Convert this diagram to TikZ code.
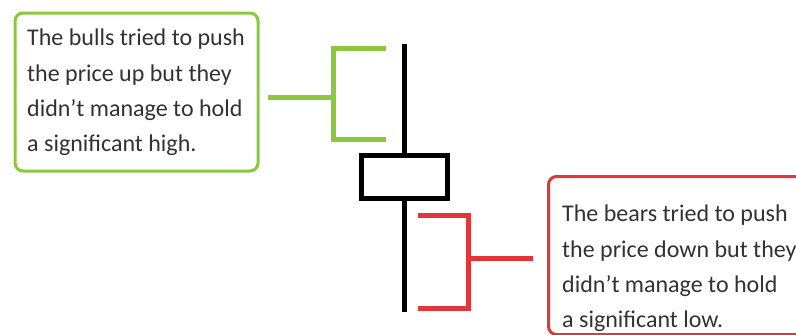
\documentclass[tikz,border=0pt]{standalone}
\usepackage{fontspec}
\setmainfont{Carlito}
\definecolor{bullgreen}{RGB}{140,200,60}
\definecolor{bearred}{RGB}{225,55,58}
\definecolor{txt}{RGB}{50,50,50}
\begin{document}
\begin{tikzpicture}[x=1pt,y=-1pt,
  callout/.style={rounded corners=8pt, line width=3pt, minimum width=#1},
  label/.style={text=txt, align=left, inner sep=0pt, font=\fontsize{24}{35.2}\selectfont},
  bracket/.style={line width=5pt},
  candle/.style={line width=5pt, draw=black}]
\useasboundingbox (0,0) rectangle (796,335);
\clip (0,0) rectangle (796,335);
% green callout
\node[callout=243pt, draw=bullgreen, minimum height=158pt] (gbox) at (136.5,92) {};
\node[label, anchor=north west] (gtext) at (27,29) {The bulls tried to push\\the price up but they\\didn’t manage to hold\\a significant high.};
% red callout
\node[callout=270pt, draw=bearred, minimum height=158pt, anchor=north west] (rbox) at (547,175) {};
\node[label, anchor=north west] (rtext) at (562,205) {The bears tried to push\\the price down but they\\didn’t manage to hold\\a significant low.};
% candle
\node[candle, minimum width=86pt, minimum height=43pt, inner sep=0pt] (body) at (404,176.5) {};
\coordinate (hightip) at (404,44);
\coordinate (lowtip) at (404,312);
\draw[candle] (body.north) -- (hightip);
\draw[candle] (body.south) -- (lowtip);
% green bracket
\coordinate (g1) at (386,48);
\coordinate (g2) at (333,48);
\coordinate (g3) at (333,139);
\coordinate (g4) at (386,139);
\coordinate (gmid) at (333,97);
\coordinate (gstart) at (268,97);
\draw[bracket, bullgreen] (g1) -- (g2) -- (g3) -- (g4);
\draw[bracket, bullgreen] (gstart) -- (gmid);
% red bracket
\coordinate (r1) at (418,215);
\coordinate (r2) at (468,215);
\coordinate (r3) at (468,308);
\coordinate (r4) at (418,308);
\coordinate (rmid) at (468,258);
\coordinate (rend) at (533,258);
\draw[bracket, bearred] (r1) -- (r2) -- (r3) -- (r4);
\draw[bracket, bearred] (rmid) -- (rend);
\end{tikzpicture}
\end{document}
